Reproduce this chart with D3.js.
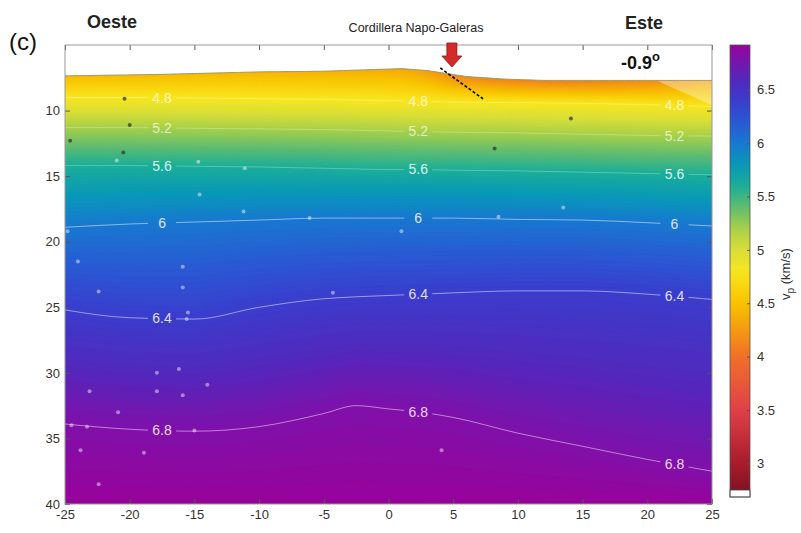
<!DOCTYPE html>
<html><head><meta charset="utf-8">
<script src="https://cdn.jsdelivr.net/npm/d3@7"></script>
<style>body{margin:0;background:#fff;} svg{display:block;font-family:"Liberation Sans",Arial,sans-serif;}</style>
</head><body><svg id="c" width="801" height="533"></svg>
<script>
// ---------- data ----------
const xSamples = [-25,-20,-15,-10,-5,-2.5,0,2.5,5,10,15,20,25];
const levels   = [4.8,5.2,5.6,6.0,6.4,6.8];
const iso48 = [9.0,9.0,9.05,9.1,9.15,9.2,9.25,9.3,9.35,9.4,9.45,9.55,9.7];
const iso52 = [11.3,11.3,11.35,11.4,11.45,11.5,11.55,11.6,11.65,11.7,11.8,11.9,11.95];
const iso56 = [14.2,14.2,14.25,14.3,14.4,14.45,14.5,14.5,14.55,14.6,14.7,14.8,14.9];
const iso60 = [18.9,18.65,18.5,18.35,18.2,18.2,18.2,18.2,18.2,18.3,18.35,18.55,18.8];
const iso64 = [25.2,25.8,25.9,25.0,24.35,24.2,24.1,24.0,23.9,23.75,23.75,24.0,24.4];
const iso68 = [33.9,34.3,34.45,34.1,33.1,32.5,32.75,33.0,33.4,34.6,35.6,36.6,37.5];
const surfaceVp = [4.45,4.45,4.45,4.42,4.4,4.38,4.35,4.3,4.15,4.1,4.1,4.15,4.3];
const bottomVp  = [6.93,6.93,6.93,6.93,6.93,6.93,6.93,6.93,6.93,6.93,6.93,6.93,6.93];
const surfX     = [-25,-18,-10,-5,1,3,6,9,12,25];
const surfDepth = [7.35,7.25,7.05,7.0,6.8,6.95,7.4,7.6,7.7,7.7];
const maskX     = [20.7,25,25];
const maskDepth = [7.7,9.6,7.7];
const eventX = [-20.4,-20.0,-24.6,-20.5,-21.0,-14.7,-11.1,-14.6,-11.2,-6.1,-24.8,-24.0,-15.9,-15.9,-22.4,-4.3,-15.5,-15.6,
                14.1,8.2,13.5,8.5,1.0,
                -17.9,-16.2,-23.1,-17.9,-15.9,-14.0,-20.9,-24.5,-23.3,-15.0,-23.8,-18.9,-22.4,4.1];
const eventDepth = [9.1,11.1,12.3,13.2,13.8,13.9,14.4,16.4,17.7,18.2,19.2,21.5,21.9,23.5,23.8,23.9,25.4,25.9,
                10.6,12.9,17.4,18.1,19.2,
                30.0,29.7,31.4,31.4,31.7,30.9,33.0,34.0,34.1,34.4,35.9,36.1,38.5,35.9];
const labelX = [-17.5,2.3,22.1];
const xTicks = [-25,-20,-15,-10,-5,0,5,10,15,20,25];
const yTicks = [10,15,20,25,30,35,40];
const cbTicks = [3,3.5,4,4.5,5,5.5,6,6.5];
const cmapV = [2.7,3.0,3.5,4.0,4.25,4.5,4.8,5.0,5.2,5.4,5.6,5.8,6.0,6.2,6.4,6.6,6.8,6.95];
const cmapC = ["#7a1020","#a81c2c","#e04048","#f07028","#f49a10","#f8c200","#f8e61e","#d8de38","#a8d048","#60bc70",
               "#1aae98","#0898b8","#1878d0","#2a58d4","#3a3ccc","#5228bc","#8010aa","#9c0098"];

// ---------- layout ----------
const L=65, R=712, T=45, B=504;
const svg = d3.select("#c");
const xs = d3.scaleLinear().domain([-25,25]).range([L,R]);
const ys = d3.scaleLinear().domain([5,40]).range([T,B]);
const color = d3.scaleLinear().domain(cmapV).range(cmapC).interpolate(d3.interpolateRgb).clamp(true);

const defs = svg.append("defs");
defs.append("clipPath").attr("id","plotclip").append("rect").attr("x",L).attr("y",T).attr("width",R-L).attr("height",B-T);

// ---------- field grid ----------
const nx=251, ny=176, x0=-25, d0=5;
const dx=50/(nx-1), dd=35/(ny-1);
const isoArrays=[iso48,iso52,iso56,iso60,iso64,iso68];
const isoFns = isoArrays.map(a=>d3.scaleLinear().domain(xSamples).range(a));
const vsFn = d3.scaleLinear().domain(xSamples).range(surfaceVp);
const vbFn = d3.scaleLinear().domain(xSamples).range(bottomVp);
const surfFn = d3.scaleLinear().domain(surfX).range(surfDepth);
const values = new Float64Array(nx*ny);
for (let i=0;i<nx;i++){
  const x = x0+i*dx;
  const kd = [surfFn(x), ...isoFns.map(f=>f(x)), 40];
  const kv = [vsFn(x), ...levels, vbFn(x)];
  const col = d3.scaleLinear().domain(kd).range(kv).clamp(true);
  for (let j=0;j<ny;j++) values[j*nx+i] = col(d0+j*dd);
}
const step=0.025;
const thresholds = d3.range(2.7, 6.97, step);
const contours = d3.contours().size([nx,ny]).thresholds(thresholds)(values);
const proj = d3.geoTransform({point(x,y){ this.stream.point(xs(x0+(x-0.5)*dx), ys(d0+(y-0.5)*dd)); }});
const gpath = d3.geoPath(proj);
const gField = svg.append("g").attr("clip-path","url(#plotclip)");
gField.selectAll("path.band").data(contours).join("path").attr("class","band")
  .attr("d",gpath).attr("fill",d=>color(d.value+step/2)).attr("stroke",d=>color(d.value+step/2)).attr("stroke-width",0.3);

// light mask at upper right
gField.append("path")
  .attr("d", d3.line()(maskX.map((x,k)=>[xs(x), ys(maskDepth[k])])) + "Z")
  .attr("fill","#fff").attr("opacity",0.35);

// ---------- isolines with label gaps ----------
const mask = defs.append("mask").attr("id","lblmask");
mask.append("rect").attr("x",0).attr("y",0).attr("width",801).attr("height",533).attr("fill","#fff");
const labels=[];
isoFns.forEach((f,k)=>labelX.forEach(lx=>labels.push({v:levels[k], x:lx, d:f(lx)})));
labels.forEach(l=>mask.append("rect").attr("x",xs(l.x)-14).attr("y",ys(l.d)-8).attr("width",28).attr("height",16).attr("fill","#000"));
const gIso = svg.append("g").attr("clip-path","url(#plotclip)");
const lineGen = d3.line().x(d=>xs(d[0])).y(d=>ys(d[1])).curve(d3.curveMonotoneX);
gIso.append("g").attr("mask","url(#lblmask)").selectAll("path").data(isoArrays).join("path")
  .attr("d",a=>lineGen(xSamples.map((x,k)=>[x,a[k]])))
  .attr("fill","none").attr("stroke","#fff").attr("stroke-opacity",(a,k)=>k<3?0.3:0.55).attr("stroke-width",0.9);
gIso.selectAll("text").data(labels).join("text")
  .attr("x",d=>xs(d.x)).attr("y",d=>ys(d.d)).attr("dy","0.35em").attr("text-anchor","middle")
  .attr("font-size",14).attr("fill","#fff").attr("fill-opacity",d=>d.v<5.5?0.7:0.85).text(d=>String(d.v));

// ---------- events ----------
svg.append("g").selectAll("circle").data(eventX.map((x,k)=>({x, d:eventDepth[k]}))).join("circle")
  .attr("cx",d=>xs(d.x)).attr("cy",d=>ys(d.d)).attr("r",2)
  .attr("fill",d=>d.d<13.5?"#303030":"#fff").attr("fill-opacity",d=>d.d<13.5?0.7:0.45);

// ---------- white above surface ----------
const surfPts = d3.range(-25,25.001,0.25).map(x=>[xs(x), ys(surfFn(x))]);
svg.append("path").attr("d", "M"+L+","+T+"L"+surfPts.map(p=>p.join(",")).join("L")+"L"+R+","+T+"Z")
  .attr("fill","#fff");
svg.append("path").attr("d", d3.line()(surfPts)).attr("fill","none").attr("stroke","#9a9a6a").attr("stroke-width",1);

// ---------- axes ----------
const axCol="#333";
function styleAxis(g){ g.select(".domain").remove(); g.selectAll("line").attr("stroke","#555"); g.selectAll("text").attr("fill",axCol).attr("font-size",13).attr("font-family","Liberation Sans, Arial, sans-serif"); }
svg.append("g").attr("transform",`translate(0,${B})`).call(d3.axisBottom(xs).tickValues(xTicks).tickFormat(d=>String(d)).tickSizeInner(-5).tickSizeOuter(0).tickPadding(6)).call(styleAxis);
svg.append("g").attr("transform",`translate(0,${T})`).call(d3.axisTop(xs).tickValues(xTicks).tickFormat("").tickSizeInner(-5).tickSizeOuter(0)).call(styleAxis);
svg.append("g").attr("transform",`translate(${L},0)`).call(d3.axisLeft(ys).tickValues(yTicks).tickFormat(d=>String(d)).tickSizeInner(-5).tickSizeOuter(0).tickPadding(5)).call(styleAxis);
svg.append("g").attr("transform",`translate(${R},0)`).call(d3.axisRight(ys).tickValues(yTicks).tickFormat("").tickSizeInner(-5).tickSizeOuter(0)).call(styleAxis);
svg.append("rect").attr("x",L).attr("y",T).attr("width",R-L).attr("height",B-T).attr("fill","none").attr("stroke","#999").attr("stroke-width",1);

// ---------- annotations ----------
svg.append("path").attr("d",`M${xs(4)},${ys(6.75)}L${xs(7.3)},${ys(9.1)}`)
  .attr("stroke","#000").attr("stroke-width",1.6).attr("stroke-dasharray","3,2").attr("fill","none");
const ax=xs(4.9), aTop=43, aMid=56, aTip=67;
svg.append("path").attr("d",`M${ax-5},${aTop}L${ax+5},${aTop}L${ax+5},${aMid}L${ax+10},${aMid}L${ax},${aTip}L${ax-10},${aMid}L${ax-5},${aMid}Z`)
  .attr("fill","#d42a2a").attr("stroke","#8a1414").attr("stroke-width",0.8);
svg.append("text").attr("x",416).attr("y",32).attr("text-anchor","middle").attr("font-size",12.5).attr("fill","#222").text("Cordillera Napo-Galeras");
svg.append("text").attr("x",87).attr("y",28).attr("font-size",18).attr("font-weight","bold").attr("fill","#222").text("Oeste");
svg.append("text").attr("x",625).attr("y",29).attr("font-size",18).attr("font-weight","bold").attr("fill","#222").text("Este");
svg.append("text").attr("x",9).attr("y",50).attr("font-size",24).attr("fill","#111").text("(c)");
const ang = svg.append("text").attr("x",621).attr("y",69).attr("font-size",18).attr("font-weight","bold").attr("fill","#111");
ang.append("tspan").text("-0.9");
ang.append("tspan").attr("dy",-8).attr("font-size",13).text("o");

// ---------- colorbar ----------
const cbX=730, cbW=20;
const cbs = d3.scaleLinear().domain([2.75,6.92]).range([490,45]);
const grad = defs.append("linearGradient").attr("id","cbgrad").attr("x1",0).attr("y1",1).attr("x2",0).attr("y2",0);
d3.range(0,1.0001,0.02).forEach(t=>{ const v=2.75+t*(6.92-2.75); grad.append("stop").attr("offset",t).attr("stop-color",color(v)); });
svg.append("rect").attr("x",cbX).attr("y",cbs(6.92)).attr("width",cbW).attr("height",cbs(2.75)-cbs(6.92)).attr("fill","url(#cbgrad)");
svg.append("rect").attr("x",cbX).attr("y",490).attr("width",cbW).attr("height",7).attr("fill","#fff").attr("stroke","#444").attr("stroke-width",0.8);
svg.append("rect").attr("x",cbX).attr("y",45).attr("width",cbW).attr("height",452).attr("fill","none").attr("stroke","#555").attr("stroke-width",0.8);
svg.append("g").attr("transform",`translate(${cbX+cbW},0)`)
  .call(d3.axisRight(cbs).tickValues(cbTicks).tickFormat(d=>String(d)).tickSizeInner(-3).tickSizeOuter(0).tickPadding(7)).call(styleAxis);
const vl = svg.append("text").attr("transform","translate(790,274) rotate(-90)").attr("text-anchor","middle").attr("font-size",13).attr("fill",axCol);
vl.append("tspan").text("v");
vl.append("tspan").attr("dy",4).attr("font-size",10).text("p");
vl.append("tspan").attr("dy",-4).text(" (km/s)");
</script></body></html>
